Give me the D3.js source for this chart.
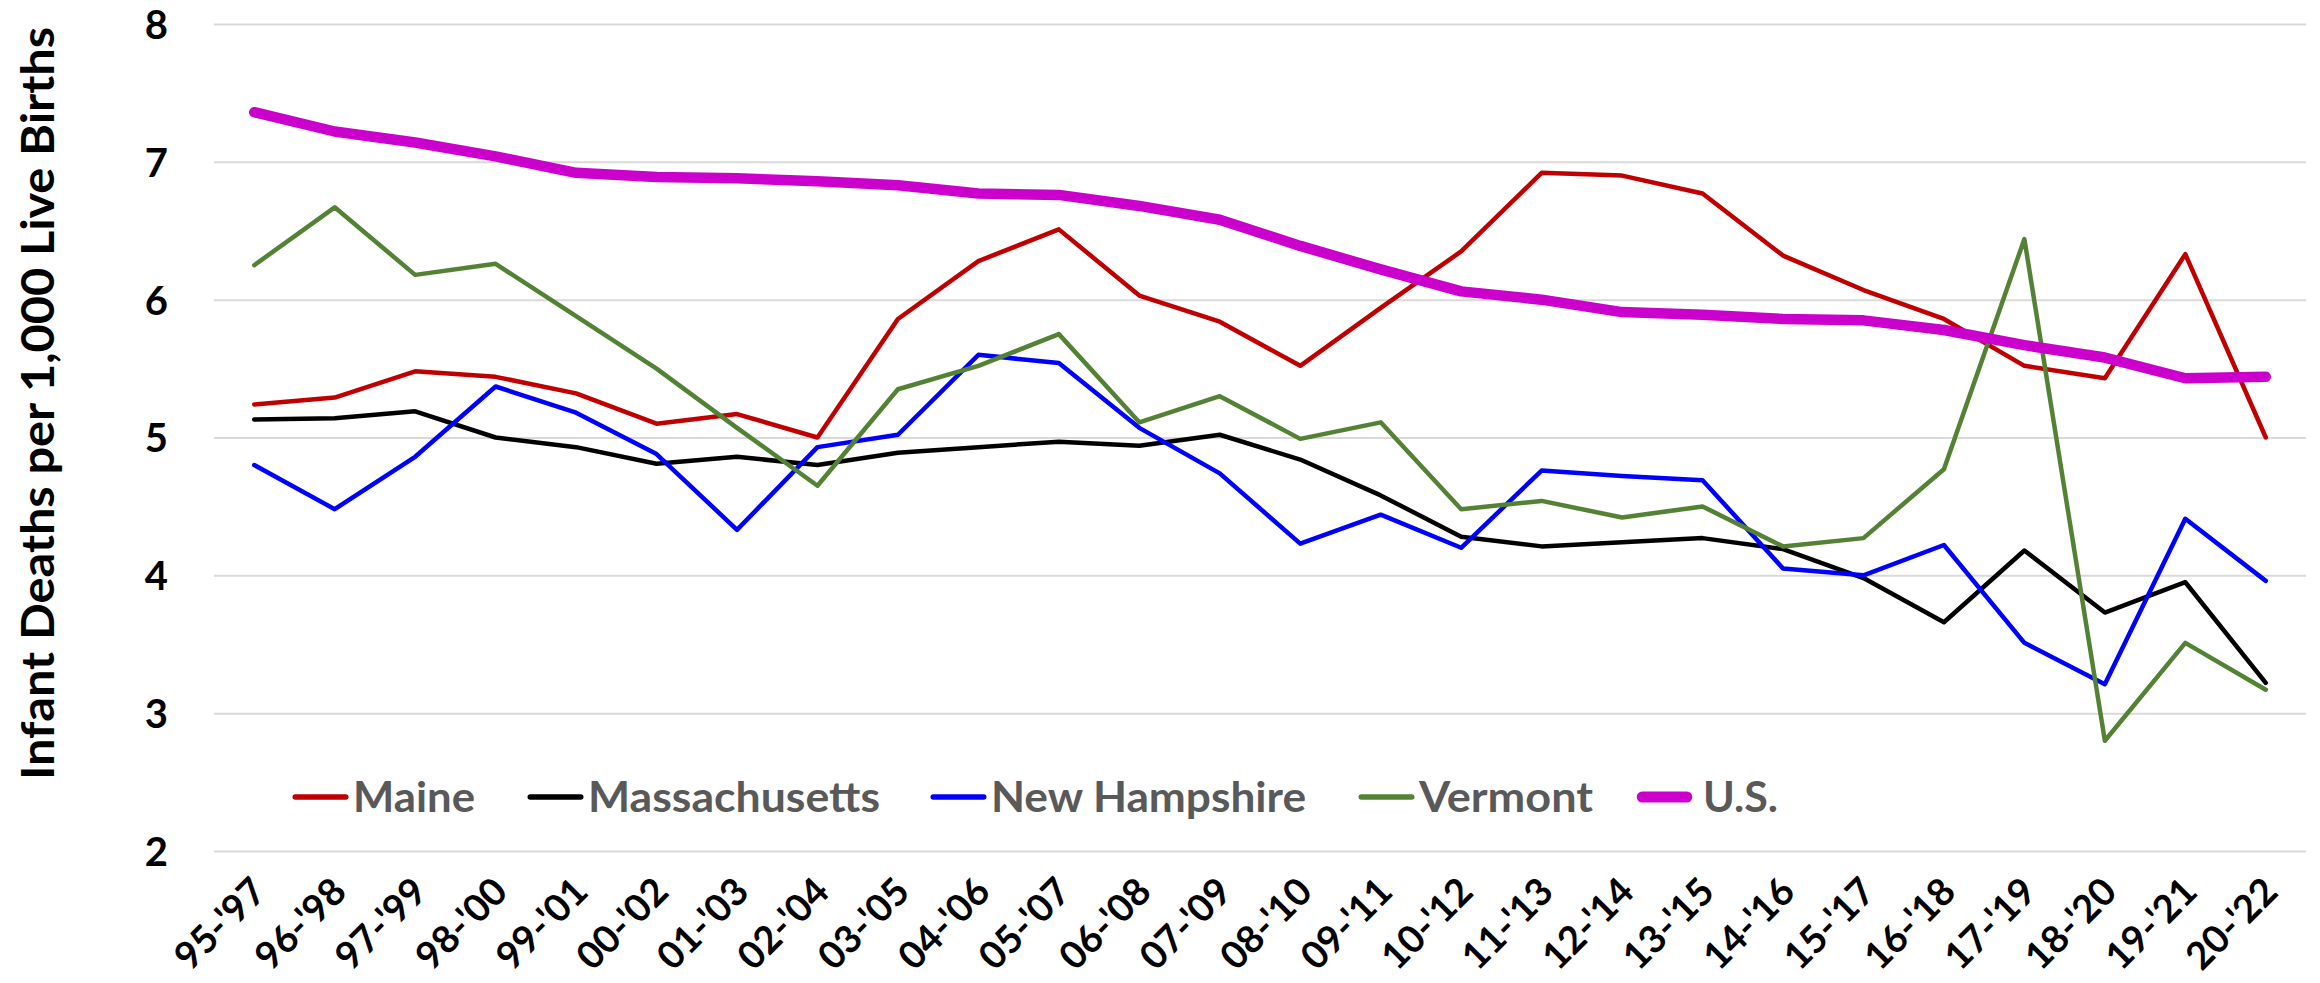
<!DOCTYPE html>
<html>
<head>
<meta charset="utf-8">
<script src="https://cdn.jsdelivr.net/npm/d3@7"></script>
<style>
  html, body { margin: 0; padding: 0; background: #ffffff; }
  svg { display: block; }
</style>
</head>
<body>
<svg id="chart" width="2320" height="983"></svg>
<script>
// ---- Data ----
const categories = ["95-'97","96-'98","97-'99","98-'00","99-'01","00-'02","01-'03","02-'04","03-'05","04-'06",
  "05-'07","06-'08","07-'09","08-'10","09-'11","10-'12","11-'13","12-'14","13-'15","14-'16",
  "15-'17","16-'18","17-'19","18-'20","19-'21","20-'22"];
const maine = [5.24,5.29,5.48,5.44,5.32,5.10,5.17,5.00,5.86,6.28,6.51,6.03,5.84,5.52,5.94,6.35,6.92,6.90,6.77,6.32,6.07,5.86,5.52,5.43,6.33,5.00];
const massachusetts = [5.13,5.14,5.19,5.00,4.93,4.81,4.86,4.80,4.89,4.93,4.97,4.94,5.02,4.84,4.58,4.28,4.21,4.24,4.27,4.19,3.98,3.66,4.18,3.73,3.95,3.22];
const newHampshire = [4.80,4.48,4.86,5.37,5.18,4.88,4.33,4.93,5.02,5.60,5.54,5.07,4.74,4.23,4.44,4.20,4.76,4.72,4.69,4.05,4.00,4.22,3.51,3.21,4.41,3.96];
const vermont = [6.25,6.67,6.18,6.26,5.88,5.50,5.07,4.65,5.35,5.52,5.75,5.11,5.30,4.99,5.11,4.48,4.54,4.42,4.50,4.21,4.27,4.77,6.44,2.80,3.51,3.17];
const us = [7.36,7.22,7.14,7.04,6.92,6.89,6.88,6.86,6.83,6.77,6.76,6.68,6.58,6.39,6.22,6.06,6.00,5.91,5.89,5.86,5.85,5.78,5.67,5.58,5.43,5.44];
const seriesNames = ["Maine","Massachusetts","New Hampshire","Vermont","U.S."];
const yTicks = [2,3,4,5,6,7,8];
const yTitle = "Infant Deaths per 1,000 Live Births";

// ---- Styles / layout ----
const seriesData = [maine, massachusetts, newHampshire, vermont, us];
const colors = ["#C00000","#000000","#0000FF","#548235","#CC00CC"];
const widths = [4.5,4.5,4.5,4.5,10.5];
const FONT = "Lato, 'Open Sans', 'Noto Sans', sans-serif";

const svg = d3.select("#chart");
const x = d3.scaleBand().domain(categories).range([214, 2306]).padding(0);
const y = d3.scaleLinear().domain([2, 8]).range([851, 24]);
const cx = d => x(d) + x.bandwidth() / 2;

// gridlines
const yAxis = d3.axisLeft(y).tickValues(yTicks).tickSize(-(2306 - 214)).tickPadding(46).tickFormat(d3.format("d"));
const gy = svg.append("g").attr("transform", "translate(214,0)").call(yAxis);
gy.select(".domain").remove();
gy.selectAll(".tick line").attr("stroke", "#D9D9D9").attr("stroke-width", 2);
gy.selectAll(".tick text")
  .attr("font-family", FONT).attr("font-weight", "bold").attr("font-size", 40)
  .attr("fill", "#000").attr("dy", "0.36em");

// x axis labels
const xAxis = d3.axisBottom(x).tickSize(0).tickPadding(0);
const gx = svg.append("g").attr("transform", "translate(0,851)").call(xAxis);
gx.select(".domain").remove();
gx.selectAll(".tick text")
  .attr("font-family", FONT).attr("font-weight", "bold").attr("font-size", 38)
  .attr("fill", "#000")
  .attr("text-anchor", "end")
  .attr("dy", 0).attr("y", 0)
  .attr("transform", "translate(14,43) rotate(-45)");

// y title
svg.append("text")
  .attr("transform", "translate(54,403.5) rotate(-90)")
  .attr("text-anchor", "middle")
  .attr("font-family", FONT).attr("font-weight", "bold").attr("font-size", 46)
  .attr("fill", "#000")
  .attr("textLength", 753).attr("lengthAdjust", "spacingAndGlyphs")
  .text(yTitle);

// lines
const line = d3.line().x((d, i) => cx(categories[i])).y(d => y(d));
seriesData.forEach((s, k) => {
  svg.append("path")
    .datum(s)
    .attr("d", line)
    .attr("fill", "none")
    .attr("stroke", colors[k])
    .attr("stroke-width", widths[k])
    .attr("stroke-linejoin", "round")
    .attr("stroke-linecap", "round");
});

// legend
const legendStarts = [293, 528, 931, 1359, 1637];
const legendTextW = [122, 292, 315, 174, 75];
const legY = 797;
const leg = svg.append("g");
seriesNames.forEach((name, k) => {
  const lx = legendStarts[k];
  const hw = widths[k] / 2;
  leg.append("line")
    .attr("x1", lx + hw).attr("x2", lx + 55 - hw)
    .attr("y1", legY).attr("y2", legY)
    .attr("stroke", colors[k]).attr("stroke-width", k === 4 ? 11 : 5.5)
    .attr("stroke-linecap", "round");
  leg.append("text")
    .attr("x", lx + (k === 4 ? 66 : 60)).attr("y", legY + 15)
    .attr("font-family", FONT).attr("font-weight", "bold").attr("font-size", 42)
    .attr("fill", "#595959")
    .attr("textLength", legendTextW[k]).attr("lengthAdjust", "spacingAndGlyphs")
    .text(name);
});
</script>
</body>
</html>
